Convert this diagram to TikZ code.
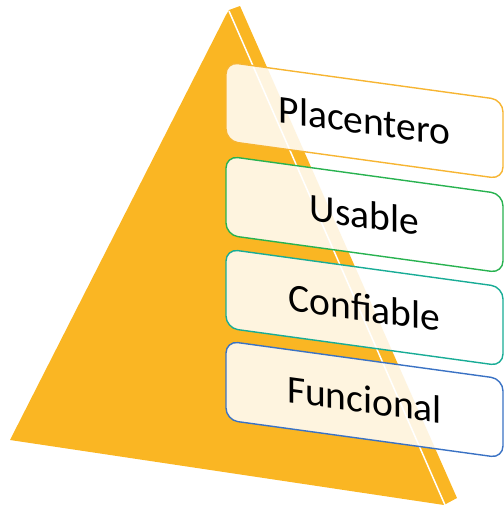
\documentclass[tikz,border=0pt]{standalone}
\usepackage{fontspec}
\setmainfont{Carlito}
\definecolor{pyramid}{RGB}{250,182,35}
\definecolor{edgeP}{RGB}{247,181,50}
\definecolor{edgeU}{RGB}{40,178,80}
\definecolor{edgeC}{RGB}{24,172,150}
\definecolor{edgeF}{RGB}{58,114,196}
\tikzset{
  level/.style={draw, line width=1.4pt, rounded corners=12pt,
    fill=white, fill opacity=0.86, text opacity=1,
    minimum width=277pt, minimum height=79pt, inner sep=0pt,
    transform shape, font=\fontsize{39.5}{42}\selectfont},
  ridge/.style={white, line width=1.5pt}
}
\begin{document}
\begin{tikzpicture}[x=1pt,y=-1pt]
\useasboundingbox (0,0) rectangle (504,507);
% pyramid body: front face and thin side face
\fill[pyramid] (226,15) -- (229,10) -- (240,6) -- (457,498) -- (444,505) -- (10,440) -- cycle;
\coordinate (ridgeTop) at (229,11);
\coordinate (ridgeBot) at (445,505);
\draw[ridge] (ridgeTop) -- (ridgeBot);
% the four levels, sheared along the pyramid face
\begin{scope}[shift={(226,0)}, yslant=-0.137]
  \node[level, draw=edgeP] (plac) at (138.5,101.5) {Placentero};
  \node[level, draw=edgeU] (usab) at (138.5,195.5) {Usable};
  \node[level, draw=edgeC] (conf) at (138.5,288.5) {Confiable};
  \node[level, draw=edgeF] (func) at (138.5,380.5) {Funcional};
\end{scope}
\end{tikzpicture}
\end{document}
